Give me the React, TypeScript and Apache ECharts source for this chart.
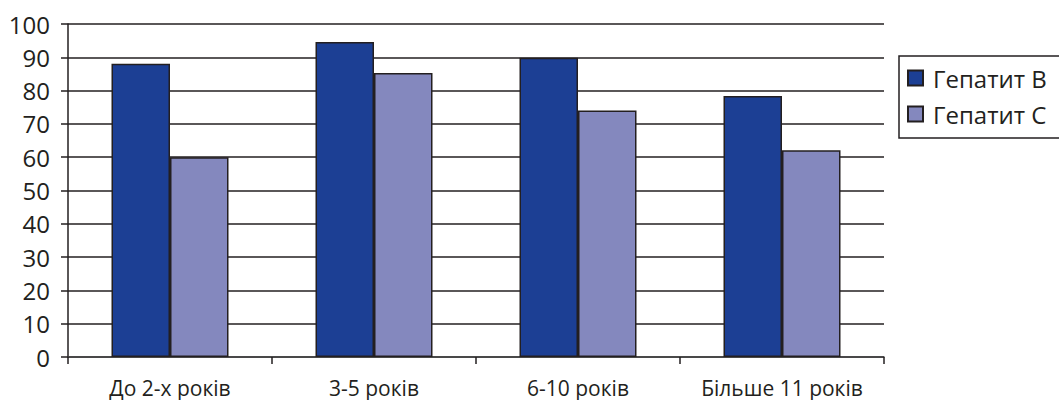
import React, { useEffect, useRef } from "react";
import * as echarts from "echarts";

// Categories (years of service) and the two hepatitis series
const categories = ["До 2-х років", "3-5 років", "6-10 років", "Більше 11 років"];
const hepatitisB = [88.1, 94.6, 89.9, 78.4];
const hepatitisC = [60.0, 85.3, 74.0, 62.1];
const seriesNames = ["Гепатит В", "Гепатит С"];
const yTicks = { min: 0, max: 100, interval: 10 };

const DARK = "#231f20";
const FONT = "'Open Sans', 'Noto Sans', sans-serif";

export default function App() {
  const ref = useRef<HTMLDivElement>(null);

  useEffect(() => {
    if (!ref.current) return;
    const chart = echarts.init(ref.current, undefined, { renderer: "svg" });
    chart.setOption({
      animation: false,
      backgroundColor: "#ffffff",
      textStyle: { fontFamily: FONT },
      grid: { left: 68, right: 175, top: 24, bottom: 43, containLabel: false },
      legend: {
        orient: "vertical",
        left: 899,
        top: 56,
        data: seriesNames,
        icon: "rect",
        itemWidth: 15,
        itemHeight: 15,
        itemGap: 12,
        padding: [10, 40, 12, 8],
        borderColor: DARK,
        borderWidth: 1.5,
        textStyle: { fontSize: 24, color: DARK, fontFamily: FONT, padding: [0, 0, 0, 5] },
      },
      xAxis: {
        type: "category",
        data: categories,
        axisLine: { lineStyle: { color: "#444", width: 1.5 } },
        axisTick: { show: true, length: 7, lineStyle: { color: DARK, width: 1.5 } },
        axisLabel: { interval: 0, fontSize: 21, color: DARK, margin: 20, fontFamily: FONT },
        splitLine: { show: false },
      },
      yAxis: {
        type: "value",
        min: yTicks.min,
        max: yTicks.max,
        interval: yTicks.interval,
        axisLine: { show: true, lineStyle: { color: DARK, width: 1.5 } },
        axisTick: { show: true, length: 7, lineStyle: { color: DARK, width: 1.5 } },
        axisLabel: { fontSize: 24, color: DARK, margin: 18, fontFamily: FONT },
        splitLine: { show: true, lineStyle: { color: DARK, width: 1.5 } },
      },
      series: [
        {
          name: seriesNames[0],
          type: "bar",
          data: hepatitisB,
          barWidth: 58.5,
          barGap: "0%",
          itemStyle: { color: "#1c3f94", borderColor: DARK, borderWidth: 1.5 },
        },
        {
          name: seriesNames[1],
          type: "bar",
          data: hepatitisC,
          barWidth: 58.5,
          barGap: "0%",
          itemStyle: { color: "#8488be", borderColor: DARK, borderWidth: 1.5 },
        },
      ],
    });
    return () => chart.dispose();
  }, []);

  return (
    <div
      ref={ref}
      style={{ position: "fixed", left: 0, top: 0, width: 1059, height: 400 }}
    />
  );
}
